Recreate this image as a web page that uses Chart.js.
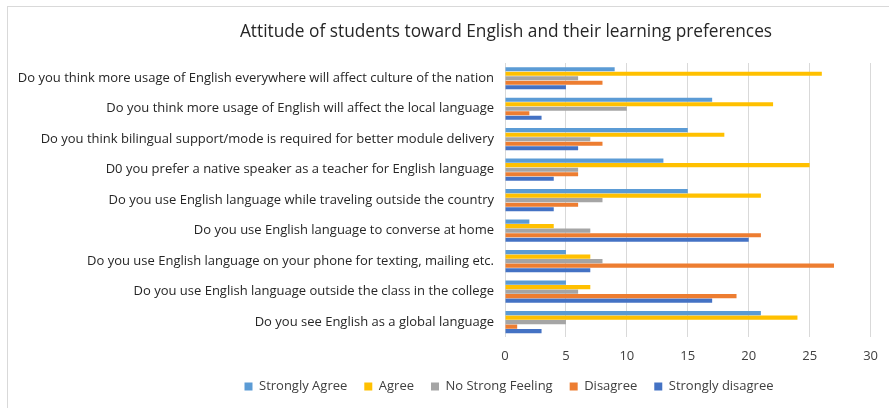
<!DOCTYPE html>
<html>
<head>
<meta charset="utf-8">
<script src="https://cdn.jsdelivr.net/npm/chart.js@4"></script>
<style>
    body { margin: 0; background: #fff; }
    #wrap { width: 889px; height: 408px; position: relative; }
</style>
</head>
<body>
<div id="wrap"><canvas id="attitude_chart"></canvas></div>
<script>
const questions = [
    'Do you think more usage of English everywhere will affect culture of the nation',
    'Do you think more usage of English will affect the local language',
    'Do you think bilingual support/mode is required for better module delivery',
    'D0 you prefer a native speaker as a teacher for English language',
    'Do you use English language while traveling outside the country',
    'Do you use English language to converse at home',
    'Do you use English language on your phone for texting, mailing etc.',
    'Do you use English language outside the class in the college',
    'Do you see English as a global language'
]

const stronglyAgree = [9, 17, 15, 13, 15, 2, 5, 5, 21]
const agree = [26, 22, 18, 25, 21, 4, 7, 7, 24]
const noStrongFeeling = [6, 10, 7, 6, 8, 7, 8, 6, 5]
const disagree = [8, 2, 8, 6, 6, 21, 27, 19, 1]
const stronglyDisagree = [5, 3, 6, 4, 4, 20, 7, 17, 3]

const xTicks = [0, 5, 10, 15, 20, 25, 30]

const titleText = 'Attitude of students toward English and their learning preferences'
const fontFamily = '"Open Sans", "Noto Sans", sans-serif'

// outer frame + title, drawn like the office chart box
const framePlugin = {
    id: 'frame',
    afterLayout(chart) {
        // legend sits under the plot area, not centred on the whole canvas
        chart.legend.left = 150
        chart.legend.right = 868
        chart.legend.top -= 12
        chart.legend.bottom -= 12
    },
    beforeDraw(chart) {
        const ctx = chart.ctx
        ctx.save()
        ctx.strokeStyle = '#d9d9d9'
        ctx.lineWidth = 1
        ctx.strokeRect(7.5, 6.5, 900, 420)
        ctx.fillStyle = '#262626'
        ctx.font = '17.3px ' + fontFamily
        ctx.textAlign = 'center'
        ctx.textBaseline = 'middle'
        ctx.fillText(titleText, 506, 32)
        ctx.restore()
    }
}

const ctx = document.getElementById('attitude_chart').getContext('2d')
const chart = new Chart(ctx, {
    type: 'bar',
    data: {
        labels: questions,
        datasets: [
            { label: 'Strongly Agree', data: stronglyAgree, backgroundColor: '#5b9bd5' },
            { label: 'Agree', data: agree, backgroundColor: '#ffc000' },
            { label: 'No Strong Feeling', data: noStrongFeeling, backgroundColor: '#a5a5a5' },
            { label: 'Disagree', data: disagree, backgroundColor: '#ed7d31' },
            { label: 'Strongly disagree', data: stronglyDisagree, backgroundColor: '#4472c4' }
        ]
    },
    options: {
        indexAxis: 'y',
        responsive: true,
        maintainAspectRatio: false,
        animation: false,
        datasets: {
            bar: { categoryPercentage: 0.74, barPercentage: 0.92 }
        },
        layout: {
            padding: { left: 8, right: 14, top: 63, bottom: -7 }
        },
        scales: {
            x: {
                min: 0,
                max: 30,
                afterBuildTicks(scale) {
                    scale.ticks = xTicks.map(v => ({ value: v }))
                },
                grid: { color: '#d9d9d9', drawTicks: false },
                border: { display: false },
                ticks: {
                    color: '#404040',
                    padding: 11,
                    font: { family: fontFamily, size: 13 }
                }
            },
            y: {
                afterFit(scale) {
                    scale.width = 497
                },
                grid: { display: false },
                border: { display: false },
                ticks: {
                    color: '#262626',
                    padding: 3,
                    autoSkip: false,
                    font: { family: fontFamily, size: 13 }
                }
            }
        },
        plugins: {
            title: { display: false },
            tooltip: { enabled: false },
            legend: {
                position: 'bottom',
                labels: {
                    boxWidth: 8,
                    boxHeight: 8,
                    padding: 17,
                    color: '#404040',
                    font: { family: fontFamily, size: 13 }
                }
            }
        }
    },
    plugins: [framePlugin]
})
</script>
</body>
</html>
